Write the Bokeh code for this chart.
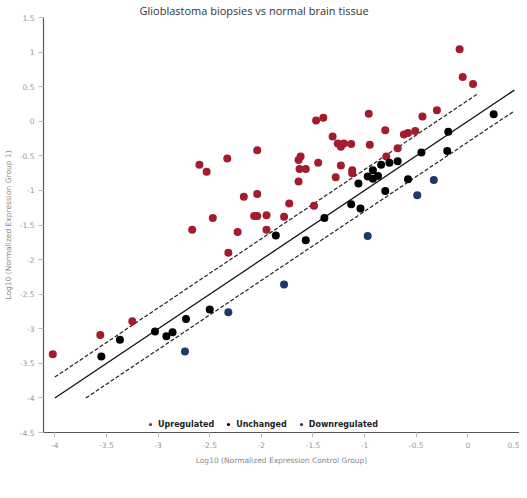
from bokeh.plotting import figure
from bokeh.models import FixedTicker, Legend, LegendItem, Range1d
from bokeh.embed import file_html
from bokeh.resources import INLINE

# ---- data ----
up_x = [-4.02, -3.56, -3.25, -2.32, -2.67, -2.23, -1.95, -2.47, -2.07, -2.04,
        -1.95, -1.78, -2.17, -2.04, -1.73, -1.49, -2.60, -2.53, -2.33, -2.04,
        -1.64, -1.63, -1.57, -1.62, -1.64, -1.45, -1.47, -1.40, -1.31, -1.26,
        -1.23, -1.20, -1.23, -1.28, -1.12, -1.12, -1.13, -0.96, -0.95, -0.79,
        -0.68, -0.80, -0.62, -0.58, -0.51, -0.44, -0.30, -0.08, -0.05, 0.05]
up_y = [-3.37, -3.09, -2.89, -1.90, -1.57, -1.60, -1.57, -1.40, -1.37, -1.37,
        -1.36, -1.38, -1.09, -1.05, -1.19, -1.22, -0.63, -0.73, -0.54, -0.42,
        -0.87, -0.69, -0.69, -0.51, -0.56, -0.60, 0.01, 0.05, -0.22, -0.32,
        -0.37, -0.32, -0.64, -0.81, -0.71, -0.75, -0.33, 0.11, -0.34, -0.51,
        -0.39, -0.13, -0.19, -0.17, -0.14, 0.07, 0.16, 1.04, 0.64, 0.54]

unch_x = [-3.55, -3.37, -3.03, -2.92, -2.86, -2.73, -2.50, -1.86, -1.57, -1.39,
          -1.13, -1.04, -1.06, -0.97, -0.92, -0.87, -0.92, -0.84, -0.76, -0.68,
          -0.80, -0.58, -0.45, -0.20, -0.19, 0.25]
unch_y = [-3.40, -3.16, -3.04, -3.11, -3.05, -2.86, -2.72, -1.65, -1.72, -1.40,
          -1.20, -1.26, -0.90, -0.80, -0.83, -0.79, -0.71, -0.63, -0.60, -0.58,
          -1.01, -0.84, -0.45, -0.43, -0.15, 0.10]

down_x = [-2.74, -2.32, -1.78, -0.97, -0.49, -0.33]
down_y = [-3.33, -2.76, -2.36, -1.66, -1.07, -0.85]

# reference lines: y = x, y = x +/- log10(2)
fold = 0.301
diag_x = [-4.0, 0.45]
upper_x = [-4.0, 0.1]
lower_x = [-3.7, 0.45]

x_ticks = [-4.0, -3.5, -3.0, -2.5, -2.0, -1.5, -1.0, -0.5, 0.0, 0.5]
x_tick_labels = ["-4", "-3.5", "-3", "-2.5", "-2", "-1.5", "-1", "-0.5", "0", "0.5"]
y_ticks = [-4.5, -4.0, -3.5, -3.0, -2.5, -2.0, -1.5, -1.0, -0.5, 0.0, 0.5, 1.0, 1.5]
y_tick_labels = ["-4.5", "-4", "-3.5", "-3", "-2.5", "-2", "-1.5", "-1", "-0.5",
                 "0", "0.5", "1", "1.5"]

title_text = "Glioblastoma biopsies vs normal brain tissue"
series_names = ["Upregulated", "Unchanged", "Downregulated"]
colors = ["#a31c2c", "#000000", "#1e3a6c"]

# ---- figure ----
p = figure(width=519, height=482,
           x_range=Range1d(-4.11, 0.5), y_range=Range1d(-4.5, 1.5),
           toolbar_location=None, output_backend="svg",
           min_border_left=43, min_border_right=0, min_border_top=13, min_border_bottom=50)
p.outline_line_color = None
p.grid.visible = False
p.background_fill_color = "white"
p.border_fill_color = "white"

p.title.text = title_text
p.title.align = "left"
p.title.offset = 96
p.title.standoff = 0
p.title.text_font = "Open Sans"
p.title.text_font_size = "11px"
p.title.text_font_style = "normal"
p.title.text_color = "#333333"

p.line(diag_x, [v for v in diag_x], line_color="#111111", line_width=1.3)
p.line(upper_x, [v + fold for v in upper_x], line_color="#222222", line_width=1.2, line_dash="4 2")
p.line(lower_x, [v - fold for v in lower_x], line_color="#222222", line_width=1.2, line_dash="4 2")

r_up = p.scatter(up_x, up_y, size=8, fill_color=colors[0], line_color=None)
r_un = p.scatter(unch_x, unch_y, size=8, fill_color=colors[1], line_color=None)
r_dn = p.scatter(down_x, down_y, size=8, fill_color=colors[2], line_color=None)

for ax, ticks, labels in ((p.xaxis[0], x_ticks, x_tick_labels), (p.yaxis[0], y_ticks, y_tick_labels)):
    ax.ticker = FixedTicker(ticks=ticks)
    ax.major_label_overrides = dict(zip(ticks, labels))
    ax.axis_line_color = "#555555"
    ax.axis_line_width = 1.2
    ax.major_tick_line_color = "#bbbbbb"
    ax.major_tick_out = 5
    ax.major_tick_in = 0
    ax.minor_tick_line_color = None
    ax.major_label_text_color = "#999999"
    ax.major_label_text_font = "DejaVu Sans"
    ax.major_label_text_font_size = "7.5px"
    ax.major_label_standoff = 4
    ax.axis_label_text_color = "#888888"
    ax.axis_label_text_font = "DejaVu Sans"
    ax.axis_label_text_font_size = "7.5px"
    ax.axis_label_text_font_style = "normal"

p.xaxis.axis_label = "Log10 (Normalized Expression Control Group)"
p.yaxis.axis_label = "Log10 (Normalized Expression Group 1)"
p.xaxis.axis_label_standoff = 5
p.yaxis.axis_label_standoff = 4

legend = Legend(items=[LegendItem(label=series_names[0], renderers=[r_up]),
                       LegendItem(label=series_names[1], renderers=[r_un]),
                       LegendItem(label=series_names[2], renderers=[r_dn])],
                orientation="horizontal", location=(103, 3),
                border_line_color=None, background_fill_alpha=0,
                label_text_font="DejaVu Sans", label_text_font_style="bold",
                label_text_font_size="8px", label_text_color="#222222",
                glyph_width=8, glyph_height=8, label_height=10, label_standoff=4,
                spacing=10, padding=0, margin=0)
p.add_layout(legend)

open("out.html", "w").write(file_html(p, INLINE))
